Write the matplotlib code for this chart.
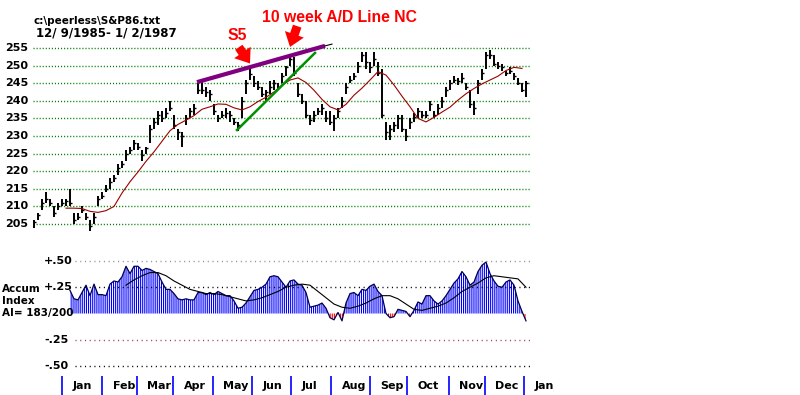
import numpy as np
import matplotlib
matplotlib.use('Agg')
import matplotlib.pyplot as plt
from matplotlib.transforms import blended_transform_factory

plt.rcParams['hatch.linewidth'] = 0.8

# ---------------- data ----------------
# price bars, one bar per ~2 trading days, 12/9/1985 - 1/2/1987
bar_low = [204, 206, 209, 211, 210, 207, 209, 210, 210, 210,
           205, 206, 208, 206, 203, 205, 210, 212, 214, 215,
           217, 219, 221, 223, 225, 226, 226, 223, 225, 228,
           232, 233, 234, 235, 237, 232, 229, 227, 233, 235,
           236, 242, 242, 241, 240, 236, 234, 235, 235, 234,
           233, 231.5, 235, 242, 246, 244, 243, 241, 240, 242,
           243, 243, 245, 247, 250, 247, 241, 239, 235, 233,
           234, 236, 236, 234, 233, 231.5, 235, 238, 242, 245,
           246, 248, 251, 249, 248, 250, 247, 235, 229, 229,
           231, 232, 231, 228.5, 232, 234, 235, 235, 235, 237,
           235, 236, 238, 241, 243, 245, 244.5, 245, 243, 238,
           236, 242, 246, 249, 252, 250, 249, 248.5, 247, 247.5,
           246, 244.5, 242.5, 241]
bar_high = [206, 208, 212, 214, 212, 210, 211, 212, 212, 215,
            208, 208, 210, 208, 206, 208, 213, 214, 216, 218,
            219, 222, 223, 226, 227, 229, 228, 226, 227, 233,
            235, 237, 237, 238, 240, 236, 232, 231, 236, 238,
            239, 245, 245.5, 244, 243, 239, 236, 237, 238, 237,
            235, 234, 241, 246, 249, 247, 245.5, 244, 243, 245.5,
            246, 245, 248, 250, 253, 252.5, 245, 242, 240, 236,
            237, 238, 239, 237, 237, 236, 238, 241, 245, 247,
            248, 251, 254, 254, 251, 254, 251, 249, 234, 233,
            234, 236, 236, 232, 235, 236.5, 238, 237, 237, 240,
            237, 239, 241, 244, 246, 247, 246.5, 248, 245, 243,
            240, 246, 249, 254, 254.5, 253, 251, 250.5, 248.5, 249.5,
            248, 246.5, 245, 245.5]
bar_close = [205.5, 207.5, 211, 212, 211, 208, 210, 211, 211.5, 211,
             206, 207, 209, 207, 204.5, 207, 212, 213, 215, 217,
             218, 221, 222, 225, 226, 228, 227, 224.5, 226.5, 232,
             234, 236, 235, 236.5, 238, 233, 231, 230, 235, 237,
             238, 243, 243, 242.5, 242, 237, 235, 236, 236.5, 236,
             234, 233, 240, 245, 247.5, 245, 244, 242, 242.5, 244,
             245, 244, 247, 249.5, 252, 248, 242, 240, 236, 234.5,
             236, 237, 238, 235, 234, 235, 237, 240, 244, 246,
             247, 250, 253, 251, 249.5, 252, 248, 236, 231, 232,
             233, 235, 232, 230, 234, 235.5, 237, 236, 236, 239,
             236, 238, 240, 243, 245, 246, 245.5, 246.5, 244, 239,
             238, 245, 248, 253, 253, 250.5, 250, 249.5, 248, 248.5,
             247, 245, 243, 245]

# red moving average of price, sampled every 2nd bar from bar 8
price_ma_start, price_ma_step = 8, 2
price_ma = [209.5, 209.5, 209.4, 208.6, 208.3, 208.8, 210.0, 213.8, 217.0, 219.8,
            222.8, 225.5, 228.5, 231.5, 233.3, 234.5, 235.8, 237.6, 238.3, 239.1,
            239.0, 238.0, 237.4, 238.3, 239.8, 241.0, 242.5, 244.4, 245.9, 246.5,
            245.2, 243.0, 240.4, 238.3, 237.4, 239.0, 241.6, 243.6, 245.9, 248.3,
            247.3, 244.5, 241.3, 238.3, 235.0, 234.0, 235.3, 236.8, 238.2, 240.2,
            242.0, 243.5, 244.8, 245.9, 247.0, 248.6, 249.5, 249.2]

# Accumulation Index, one value per bar from bar 9
ai_start = 9
ai_values = [0.22, 0.14, 0.13, 0.20, 0.27, 0.17, 0.28, 0.18, 0.18, 0.17,
             0.28, 0.31, 0.30, 0.35, 0.45, 0.38, 0.45, 0.45, 0.41, 0.43,
             0.42, 0.40, 0.38, 0.30, 0.23, 0.23, 0.19, 0.14, 0.13, 0.14,
             0.13, 0.13, 0.20, 0.20, 0.18, 0.20, 0.18, 0.21, 0.19, 0.17,
             0.17, 0.12, 0.05, 0.06, 0.10, 0.16, 0.22, 0.23, 0.25, 0.28,
             0.35, 0.36, 0.35, 0.30, 0.25, 0.31, 0.32, 0.28, 0.27, 0.20,
             0.06, 0.07, 0.08, 0.10, 0.05, -0.04, -0.06, 0.01, -0.07, 0.10,
             0.19, 0.20, 0.17, 0.23, 0.22, 0.26, 0.28, 0.21, 0.17, 0.00,
             -0.04, -0.03, 0.04, 0.03, 0.02, -0.03, 0.03, 0.11, 0.09, 0.17,
             0.17, 0.12, 0.09, 0.12, 0.17, 0.23, 0.29, 0.33, 0.40, 0.35,
             0.27, 0.30, 0.40, 0.46, 0.49, 0.38, 0.31, 0.26, 0.25, 0.30,
             0.32, 0.27, 0.12, 0.02, -0.07]

# black moving average of the AI, every 2nd bar from bar 23
ai_ma_start, ai_ma_step = 23, 2
ai_ma = [0.27, 0.32, 0.36, 0.39, 0.39, 0.36, 0.31, 0.27, 0.23, 0.21,
         0.19, 0.19, 0.18, 0.16, 0.14, 0.12, 0.13, 0.15, 0.18, 0.21,
         0.25, 0.27, 0.28, 0.27, 0.21, 0.15, 0.09, 0.06, 0.05, 0.07,
         0.10, 0.14, 0.17, 0.17, 0.14, 0.09, 0.04, 0.03, 0.05, 0.07,
         0.10, 0.15, 0.21, 0.25, 0.29, 0.34, 0.36, 0.35, 0.34, 0.33,
         0.25]

month_labels = ['Jan', 'Feb', 'Mar', 'Apr', 'May', 'Jun', 'Jul',
                'Aug', 'Sep', 'Oct', 'Nov', 'Dec', 'Jan']
month_starts = [7, 17, 25.75, 34.75, 44.75, 54.5, 64.25,
                74.25, 84, 93.25, 103.75, 112.75, 122.5]

price_ticks = [205, 210, 215, 220, 225, 230, 235, 240, 245, 250, 255]
ai_ticks = [0.50, 0.25, -0.25, -0.50]
ai_tick_labels = ['+.50', '+.25', '-.25', '-.50']
ai_grid_colors = ['#909090', '#000000', '#a04060', '#000000']

# hand-drawn trend lines (bar index, price)
resist_x, resist_y = [40.75, 72.75], [245.3, 255.6]
resist_ext_x, resist_ext_y = [72.75, 74.5], [255.6, 256.1]
support_x, support_y = [50.75, 70.25], [231.7, 253.6]

# annotation arrows (tip bar, tip price, tail bar, tail price)
arrow_s5 = (54, 250.6, 51.2, 255.2)
arrow_ad = (64, 255.3, 65.8, 261.2)

# ---------------- figure ----------------
W, H = 800, 395
fig = plt.figure(figsize=(W / 100, H / 100), dpi=100)
fig.patch.set_facecolor('white')


def rect(l, t, r, b):
    return [l / W, 1 - b / H, (r - l) / W, (b - t) / H]


def ftext(x, y, s, **kw):
    fig.text(x / W, 1 - y / H, s, **kw)


ax = fig.add_axes(rect(33, 40, 530, 232))
ax2 = fig.add_axes(rect(33, 250, 530, 372))
for a in (ax, ax2):
    a.set_axis_off()
    a.set_xlim(-0.25, 124)
ax.set_ylim(202.73, 257.27)
ax2.set_ylim(-0.557, 0.605)

# price grid
ax.hlines(price_ticks, -0.25, 124, colors='#008000', linestyles=(0, (0.8, 1.4)), lw=1.0)
for p in price_ticks:
    ax.annotate(str(p), xy=(0, p), xycoords=('axes fraction', 'data'),
                xytext=(-5, 0), textcoords='offset pixels', ha='right', va='center',
                fontsize=8, fontweight='bold', family='DejaVu Sans', annotation_clip=False)

# price bars
xb = np.arange(len(bar_low))
ax.vlines(xb, bar_low, bar_high, color='black', lw=1.4)
ax.hlines(bar_close, xb, xb + 0.5, color='black', lw=1.0)

# moving average
xm = price_ma_start + price_ma_step * np.arange(len(price_ma))
ax.plot(xm, price_ma, color='#9a0000', lw=0.8)

# trend lines
ax.plot(resist_x, resist_y, color='#800080', lw=3, solid_capstyle='butt', clip_on=False)
ax.plot(resist_ext_x, resist_ext_y, color='black', lw=0.8, clip_on=False)
ax.plot(support_x, support_y, color='#009000', lw=1.8, clip_on=False)

# arrows
for tipx, tipy, tx, ty in (arrow_s5, arrow_ad):
    ax.annotate('', xy=(tipx, tipy), xytext=(tx, ty),
                arrowprops=dict(arrowstyle='simple,head_length=0.6,head_width=0.9,tail_width=0.4',
                                color='#ff0000', lw=0, mutation_scale=16, shrinkA=0, shrinkB=0),
                annotation_clip=False)

# titles
ftext(33, 21, 'c:\\peerless\\S&P86.txt', fontsize=7.5, fontweight='bold', va='center', family='DejaVu Sans')
ftext(36, 33, '12/ 9/1985- 1/ 2/1987', fontsize=8.5, fontweight='bold', va='center', family='DejaVu Sans')
ftext(262, 17, '10 week A/D Line NC', fontsize=11.3, fontweight='bold', color='#ff0000',
      va='center', family='Liberation Sans')
ftext(228, 36, 'S5', fontsize=11.3, fontweight='bold', color='#ff0000', va='center', family='Liberation Sans')

# ---------------- accumulation index ----------------
for v, c in zip(ai_ticks, ai_grid_colors):
    ax2.hlines(v, 10.25, 124, colors=c, linestyles=(0, (0.8, 2.6)), lw=1.0)
for v, lbl in zip(ai_ticks, ai_tick_labels):
    ax2.annotate(lbl, xy=(0, v), xycoords=('axes fraction', 'data'),
                 xytext=(11, 0), textcoords='offset pixels', ha='left', va='center',
                 fontsize=8, fontweight='bold', family='DejaVu Sans', annotation_clip=False)

xa = ai_start + np.arange(len(ai_values))
ai = np.array(ai_values)
ax2.fill_between(xa, 0, ai, where=ai >= 0, interpolate=True, facecolor='none',
                 edgecolor='#0000ff', hatch='|' * 8, linewidth=0)
ax2.fill_between(xa, 0, ai, where=ai <= 0, interpolate=True, facecolor='none',
                 edgecolor='#ff0000', hatch='|' * 8, linewidth=0)
ax2.plot(xa, ai, color='#000050', lw=0.9)
xam = ai_ma_start + ai_ma_step * np.arange(len(ai_ma))
ax2.plot(xam, ai_ma, color='black', lw=0.8)

ftext(2, 289, 'Accum', fontsize=7.5, fontweight='bold', va='center', family='DejaVu Sans')
ftext(2, 301, 'Index', fontsize=7.5, fontweight='bold', va='center', family='DejaVu Sans')
ftext(2, 313, 'AI= 183/200', fontsize=7.5, fontweight='bold', va='center', family='DejaVu Sans')

# month axis
trans = blended_transform_factory(ax2.transData, fig.transFigure)
ax2.vlines(month_starts, 0, 19 / H, transform=trans, colors='#0000ff', lw=1.2, clip_on=False)
for s, m in zip(month_starts, month_labels):
    ax2.annotate(m, xy=(s, 9 / H), xycoords=trans, xytext=(10.5, 0), textcoords='offset pixels',
                 ha='left', va='center', fontsize=8, fontweight='bold', family='DejaVu Sans',
                 annotation_clip=False)

fig.savefig('out.png', dpi=100, facecolor='white')
